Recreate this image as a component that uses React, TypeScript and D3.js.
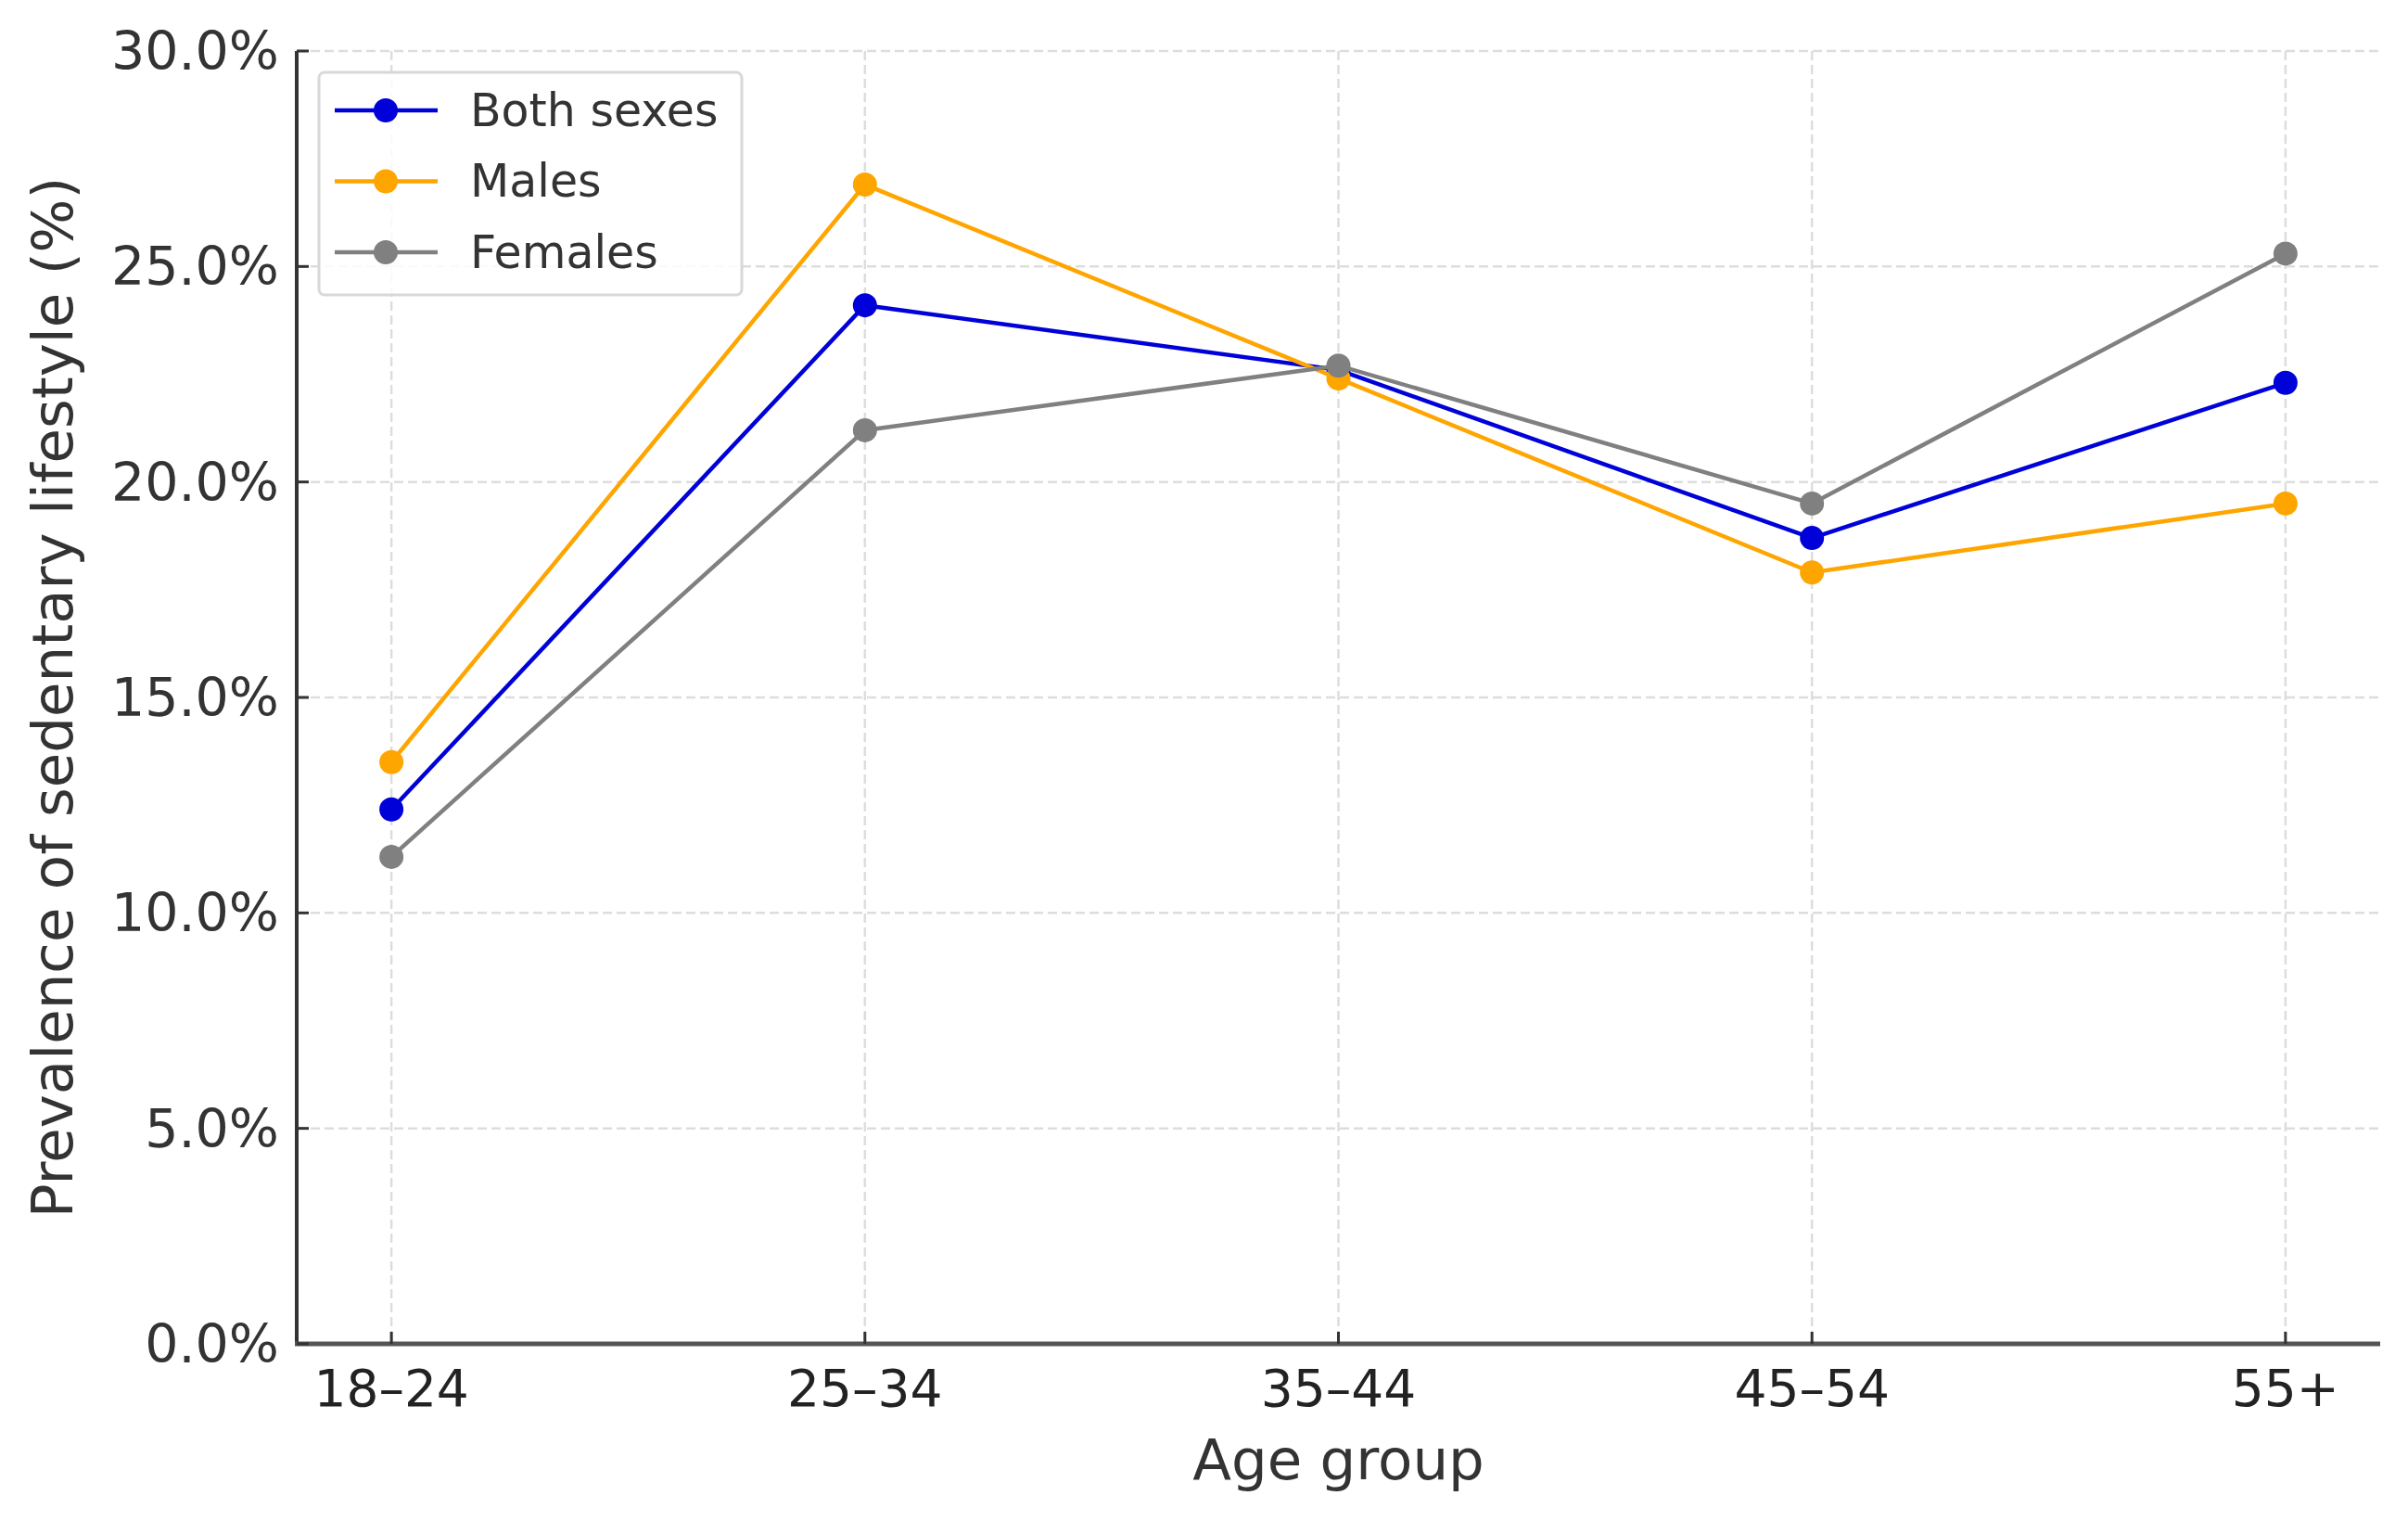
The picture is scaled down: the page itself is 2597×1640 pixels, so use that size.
import * as d3 from "d3";

const ageGroups = ["18–24", "25–34", "35–44", "45–54", "55+"];
const bothSexes = [12.4, 24.1, 22.6, 18.7, 22.3];
const males = [13.5, 26.9, 22.4, 17.9, 19.5];
const females = [11.3, 21.2, 22.7, 19.5, 25.3];
const yTicks = [0, 5, 10, 15, 20, 25, 30];

const series = [
  { name: "Both sexes", values: bothSexes, color: "#0000d8" },
  { name: "Males", values: males, color: "#ffa500" },
  { name: "Females", values: females, color: "#808080" },
];

const W = 2597;
const H = 1640;
const left = 320;
const right = 2567;
const top = 55;
const bottom = 1449;
const font = "DejaVu Sans, sans-serif";

export default function App() {
  const x = d3
    .scaleLinear()
    .domain([-0.2, ageGroups.length - 1 + 0.2])
    .range([left, right]);
  const y = d3.scaleLinear().domain([0, 30]).range([bottom, top]);
  const fmt = (v: number) => d3.format(".1f")(v) + "%";

  const line = d3
    .line<number>()
    .x((_, i) => x(i))
    .y((d) => y(d));

  const legX = 344;
  const legY = 78;
  const rowH = 76.5;

  return (
    <svg
      width={W}
      height={H}
      style={{ position: "absolute", left: 0, top: 0, background: "#fff" }}
      fontFamily={font}
    >
      {/* grid */}
      {yTicks.map((t) => (
        <line
          key={"gy" + t}
          x1={left}
          x2={right}
          y1={y(t)}
          y2={y(t)}
          stroke="#dddddd"
          strokeWidth={2.5}
          strokeDasharray="10,5"
        />
      ))}
      {ageGroups.map((a, i) => (
        <line
          key={"gx" + a}
          x1={x(i)}
          x2={x(i)}
          y1={y(30)}
          y2={y(0)}
          stroke="#dddddd"
          strokeWidth={2.5}
          strokeDasharray="10,5"
        />
      ))}

      {/* axes */}
      <line x1={left} x2={left} y1={top} y2={bottom} stroke="#333" strokeWidth={4} />
      <line x1={left - 2} x2={right} y1={bottom} y2={bottom} stroke="#555" strokeWidth={5} />
      {yTicks.map((t) => (
        <g key={"ty" + t}>
          <line x1={left} x2={left + 13} y1={y(t)} y2={y(t)} stroke="#333" strokeWidth={3} />
          <text
            x={left - 19}
            y={y(t)}
            textAnchor="end"
            dominantBaseline="central"
            fontSize={57}
            fill="#333"
          >
            {fmt(t)}
          </text>
        </g>
      ))}
      {ageGroups.map((a, i) => (
        <g key={"tx" + a}>
          <line x1={x(i)} x2={x(i)} y1={bottom} y2={bottom - 13} stroke="#333" strokeWidth={3} />
          <text
            x={x(i)}
            y={bottom + 48}
            textAnchor="middle"
            dominantBaseline="central"
            fontSize={55}
            fill="#222"
          >
            {a}
          </text>
        </g>
      ))}
      <text
        x={(left + right) / 2}
        y={1573}
        textAnchor="middle"
        dominantBaseline="central"
        fontSize={61}
        fill="#333"
      >
        Age group
      </text>
      <text
        transform={`translate(56,${(top + bottom) / 2}) rotate(-90)`}
        textAnchor="middle"
        dominantBaseline="central"
        fontSize={61}
        fill="#333"
      >
        Prevalence of sedentary lifestyle (%)
      </text>

      {/* series */}
      {series.map((s) => (
        <g key={s.name}>
          <path d={line(s.values) ?? ""} fill="none" stroke={s.color} strokeWidth={4.5} />
          {s.values.map((v, i) => (
            <circle key={i} cx={x(i)} cy={y(v)} r={13} fill={s.color} />
          ))}
        </g>
      ))}

      {/* legend */}
      <rect
        x={legX}
        y={legY}
        width={456}
        height={240}
        rx={6}
        fill="#fff"
        fillOpacity={0.85}
        stroke="#d8d8d8"
        strokeWidth={3}
      />
      {series.map((s, i) => {
        const cy = legY + 41 + i * rowH;
        return (
          <g key={"leg" + s.name}>
            <line x1={legX + 17} x2={legX + 128} y1={cy} y2={cy} stroke={s.color} strokeWidth={4.5} />
            <circle cx={legX + 72} cy={cy} r={13} fill={s.color} />
            <text
              x={legX + 163}
              y={cy}
              dominantBaseline="central"
              fontSize={49}
              fill="#333"
            >
              {s.name}
            </text>
          </g>
        );
      })}
    </svg>
  );
}
